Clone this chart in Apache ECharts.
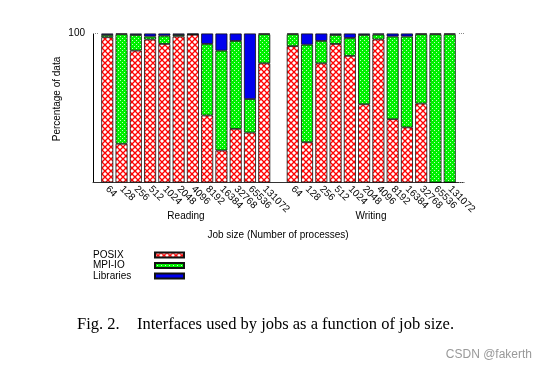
<!DOCTYPE html>
<html><head><meta charset="utf-8">
<script src="https://cdn.jsdelivr.net/npm/echarts@6/dist/echarts.min.js"></script>
<style>html,body{margin:0;padding:0;background:#fff}#c{width:548px;height:369px}</style>
</head><body><div id="c"></div>
<script>
const jobSizes = ['64','128','256','512','1024','2048','4096','8192','16384','32768','65536','131072'];
const readPosix = [97.5, 26, 88.5, 96, 93, 98, 99.2, 45, 21.5, 36, 33.5, 80];
const readMpi   = [1.5, 73.5, 10.5, 2, 5.5, 1, 0.2, 48, 67, 59, 22.5, 19.5];
const readLib   = [1, 0.5, 1, 2, 1.5, 1, 0.6, 7, 11.5, 5, 44, 0.5];
const writePosix = [91.5, 27, 80, 93, 85, 52.5, 96, 42.5, 37, 53, 0, 0];
const writeMpi   = [8, 65.5, 15, 6, 12, 46.5, 3.3, 55.5, 61, 46.5, 99.5, 99.5];
const writeLib   = [0.5, 7.5, 5, 1, 3, 1, 0.7, 2, 2, 0.5, 0.5, 0.5];
const groupNames = ['Reading', 'Writing'];
const yTicks = [100];

function join(a, b) { return [null, ...a, null, ...b, null]; }
const xData = ['', ...jobSizes, '', ...jobSizes, ''];

function redPattern() {
  const c = document.createElement('canvas'); c.width = 6; c.height = 6;
  const g = c.getContext('2d');
  g.fillStyle = '#fff'; g.fillRect(0, 0, 6, 6);
  g.strokeStyle = '#ff0000'; g.lineWidth = 1.35;
  g.beginPath(); g.moveTo(-1, -1); g.lineTo(7, 7); g.moveTo(7, -1); g.lineTo(-1, 7); g.stroke();
  return c;
}
function greenPattern() {
  const c = document.createElement('canvas'); c.width = 4; c.height = 4;
  const g = c.getContext('2d');
  g.fillStyle = '#00f000'; g.fillRect(0, 0, 4, 4);
  g.fillStyle = '#c0ffc0'; g.fillRect(0, 0, 1, 1); g.fillRect(2, 2, 1, 1);
  return c;
}
const FONT = "'Liberation Sans', Arial, sans-serif";
const SERIF = "'Liberation Serif', 'Times New Roman', serif";
const chart = echarts.init(document.getElementById('c'), null, {renderer: 'canvas'});
const border = {borderColor: '#111', borderWidth: 0.8};
function legendAt(name, top) {
  return {
    data: [name], left: 93, top: top, orient: 'vertical', align: 'right', padding: 0,
    itemWidth: 29, itemHeight: 5, selectedMode: false, icon: 'rect',
    formatter: '{a|{name}}',
    textStyle: {rich: {a: {fontFamily: FONT, fontSize: 10, color: '#000', width: 57, lineHeight: 12, align: 'left'}}}
  };
}
chart.setOption({
  animation: false,
  grid: {left: 93, right: 84, top: 33.5, bottom: 186.5},
  legend: [legendAt('POSIX', 250), legendAt('MPI-IO', 260.5), legendAt('Libraries', 271)],
  xAxis: {
    type: 'category', data: xData, boundaryGap: false,
    axisLine: {lineStyle: {color: '#333', width: 1}},
    axisTick: {show: false},
    axisLabel: {interval: 0, rotate: -45, fontFamily: FONT, fontSize: 10, color: '#000', margin: 5}
  },
  yAxis: [{
    type: 'value', min: 0, max: yTicks[0], interval: yTicks[0],
    axisLine: {show: true, lineStyle: {color: '#000'}},
    axisTick: {show: true, inside: true, length: 5, lineStyle: {color: '#888', type: 'dotted'}},
    axisLabel: {fontFamily: FONT, fontSize: 10, color: '#000', margin: 8, showMinLabel: false},
    splitLine: {show: false}
  }, {
    type: 'value', min: 0, max: yTicks[0], interval: yTicks[0], position: 'right',
    axisLine: {show: false},
    axisTick: {show: true, inside: true, length: 6, lineStyle: {color: '#888', type: 'dotted'}},
    axisLabel: {show: false}, splitLine: {show: false}
  }],
  series: [
    {name: 'POSIX', type: 'bar', stack: 's', barWidth: 12, data: join(readPosix, writePosix),
     itemStyle: Object.assign({color: {image: redPattern(), repeat: 'repeat'}}, border)},
    {name: 'MPI-IO', type: 'bar', stack: 's', barWidth: 12, data: join(readMpi, writeMpi),
     itemStyle: Object.assign({color: {image: greenPattern(), repeat: 'repeat'}}, border)},
    {name: 'Libraries', type: 'bar', stack: 's', barWidth: 12, data: join(readLib, writeLib),
     itemStyle: Object.assign({color: '#0000ee'}, border)}
  ],
  graphic: [
    {type: 'text', x: 57, y: 99, rotation: Math.PI / 2,
     style: {text: 'Percentage of data', font: "10px " + FONT, fill: '#000', align: 'center', verticalAlign: 'middle'}},
    {type: 'text', x: 186, y: 216, style: {text: groupNames[0], font: "10px " + FONT, fill: '#000', align: 'center', verticalAlign: 'middle'}},
    {type: 'text', x: 371, y: 216, style: {text: groupNames[1], font: "10px " + FONT, fill: '#000', align: 'center', verticalAlign: 'middle'}},
    {type: 'text', x: 278, y: 235, style: {text: 'Job size (Number of processes)', font: "10px " + FONT, fill: '#000', align: 'center', verticalAlign: 'middle'}},
    {type: 'text', x: 77, y: 325, style: {text: 'Fig. 2.', font: "16.5px " + SERIF, fill: '#000', verticalAlign: 'middle'}},
    {type: 'text', x: 137, y: 325, style: {text: 'Interfaces used by jobs as a function of job size.', font: "16.5px " + SERIF, fill: '#000', verticalAlign: 'middle'}},
    {type: 'text', x: 532, y: 355, style: {text: 'CSDN @fakerth', font: "12px " + FONT, fill: '#999', align: 'right', verticalAlign: 'middle'}}
  ]
});
</script></body></html>
